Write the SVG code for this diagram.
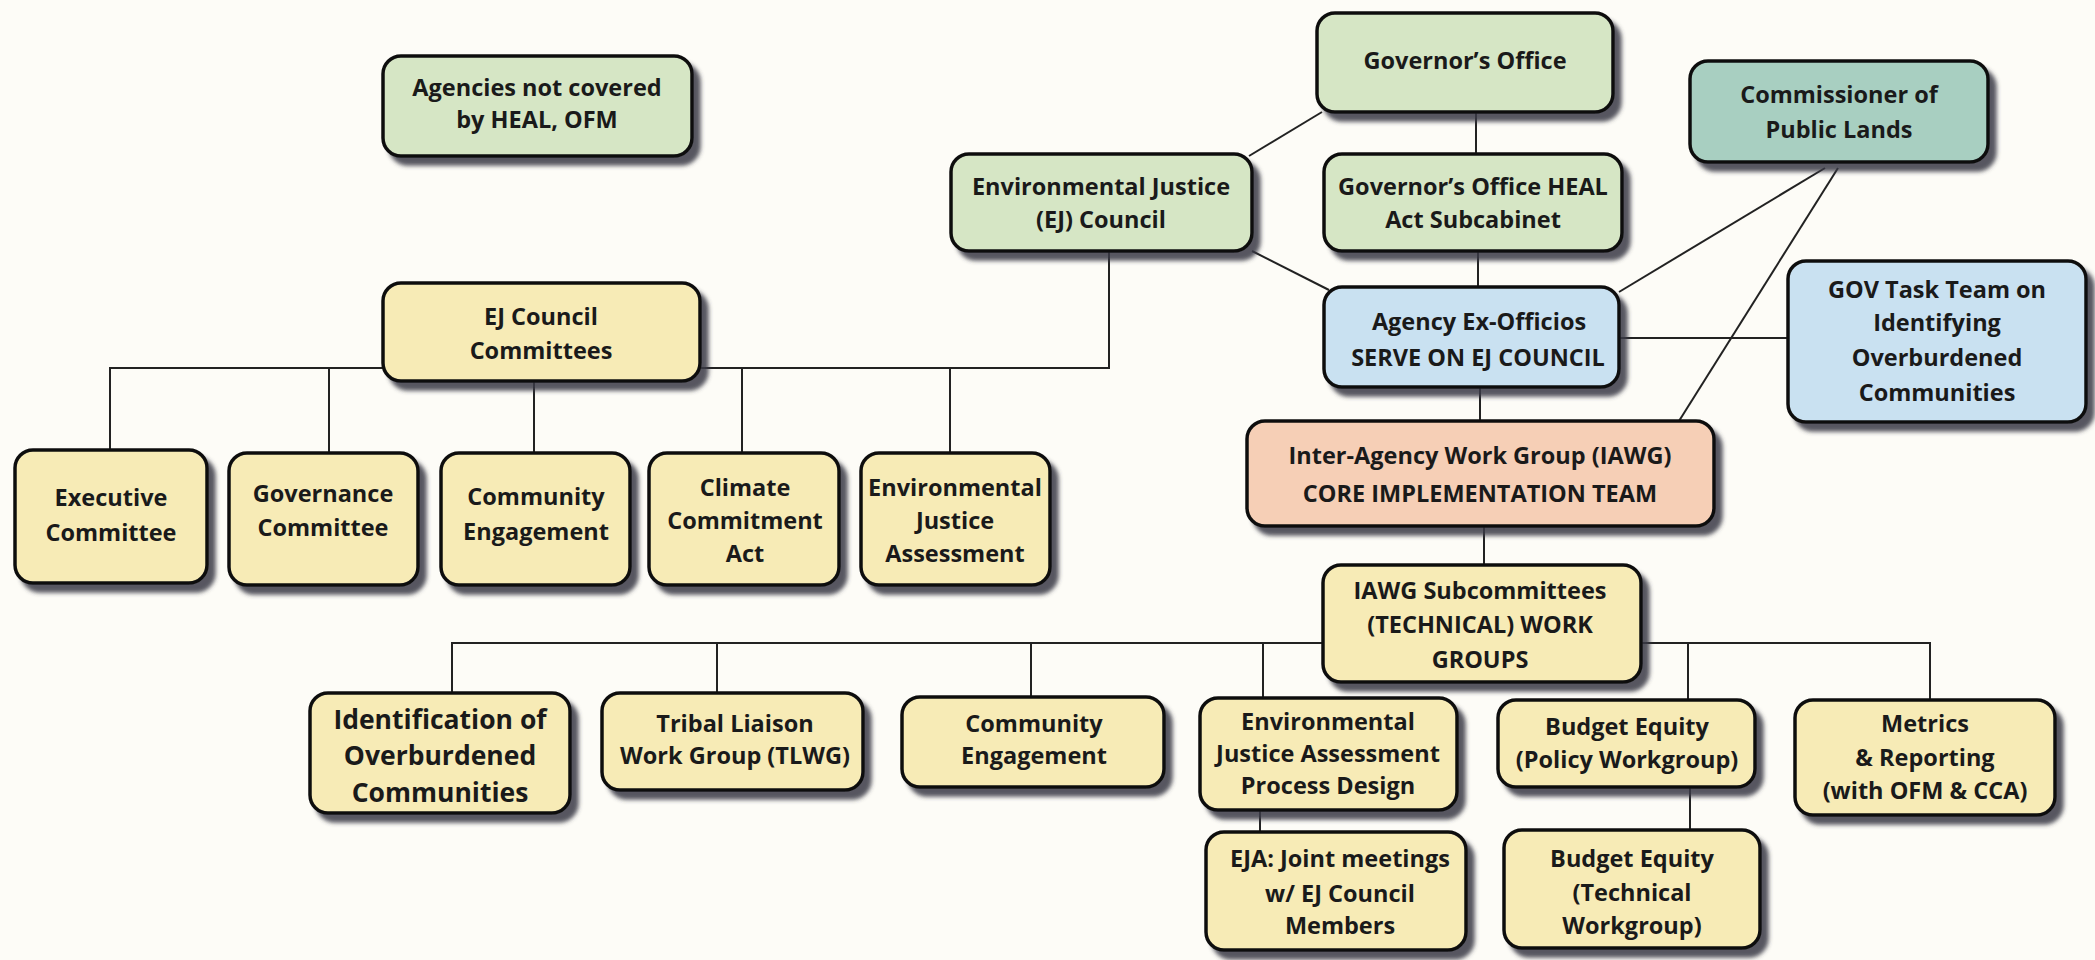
<svg xmlns="http://www.w3.org/2000/svg" width="2095" height="960" viewBox="0 0 2095 960">
<defs>
<filter id="sh" x="-10%" y="-10%" width="130%" height="140%">
<feDropShadow dx="7" dy="8" stdDeviation="2" flood-color="#3a3a44" flood-opacity="0.85"/>
</filter>
</defs>
<style>
.b{stroke:#111;stroke-width:3.5;filter:url(#sh)}
.g{fill:#d6e6c5}
.t{fill:#a8cfc1}
.bl{fill:#c9e1f1}
.p{fill:#f6cfb6}
.y{fill:#f7ebb6}
text{font-family:"Open Sans",Lato,"Liberation Sans",sans-serif;font-weight:bold;font-size:23.5px;fill:#1a1a1a;text-anchor:middle}
.big{font-size:26.5px}
.c line,.c polyline{stroke:#222;stroke-width:2;fill:none}
</style>
<rect width="2095" height="960" fill="#fdfcf7"/>
<g class="c" id="connectors">
<line x1="1322" y1="112" x2="1249" y2="156"/>
<line x1="1476" y1="112" x2="1476" y2="154"/>
<line x1="1478" y1="251" x2="1478" y2="287"/>
<line x1="1252" y1="251" x2="1329" y2="290"/>
<line x1="1825" y1="168" x2="1619" y2="292"/>
<line x1="1838" y1="168" x2="1679" y2="421"/>
<line x1="1619" y1="338" x2="1788" y2="338"/>
<line x1="1480" y1="387" x2="1480" y2="421"/>
<polyline points="1109,251 1109,368 110,368 110,451"/>
<line x1="329" y1="368" x2="329" y2="453"/>
<line x1="534" y1="381" x2="534" y2="453"/>
<line x1="742" y1="368" x2="742" y2="453"/>
<line x1="950" y1="368" x2="950" y2="453"/>
<line x1="1484" y1="526" x2="1484" y2="565"/>
<polyline points="452,695 452,643 1930,643 1930,700"/>
<line x1="717" y1="643" x2="717" y2="695"/>
<line x1="1031" y1="643" x2="1031" y2="697"/>
<line x1="1263" y1="643" x2="1263" y2="698"/>
<line x1="1688" y1="643" x2="1688" y2="700"/>
<line x1="1260" y1="810" x2="1260" y2="832"/>
<line x1="1690" y1="787" x2="1690" y2="830"/>
</g>
<g id="agencies"><rect class="b g" x="383" y="56" width="309" height="100" rx="18"/><text x="537" y="96">Agencies not covered</text><text x="537" y="128">by HEAL, OFM</text></g>
<g id="governor"><rect class="b g" x="1317" y="13" width="296" height="99" rx="18"/><text x="1465" y="69">Governor’s Office</text></g>
<g id="commissioner"><rect class="b t" x="1690" y="61" width="298" height="101" rx="18"/><text x="1839" y="103">Commissioner of</text><text x="1839" y="138">Public Lands</text></g>
<g id="ej-council"><rect class="b g" x="951" y="154" width="301" height="97" rx="18"/><text x="1101" y="195">Environmental Justice</text><text x="1101" y="228">(EJ) Council</text></g>
<g id="heal"><rect class="b g" x="1324" y="154" width="298" height="97" rx="18"/><text x="1473" y="195">Governor’s Office HEAL</text><text x="1473" y="228">Act Subcabinet</text></g>
<g id="ej-committees"><rect class="b y" x="383" y="283" width="317" height="98" rx="18"/><text x="541" y="325">EJ Council</text><text x="541" y="359">Committees</text></g>
<g id="ex-officios"><rect class="b bl" x="1324" y="287" width="295" height="100" rx="18"/><text x="1479" y="330">Agency Ex-Officios</text><text x="1478" y="366">SERVE ON EJ COUNCIL</text></g>
<g id="gov-task"><rect class="b bl" x="1788" y="261" width="298" height="161" rx="18"/><text x="1937" y="298">GOV Task Team on</text><text x="1937" y="331">Identifying</text><text x="1937" y="366">Overburdened</text><text x="1937" y="401">Communities</text></g>
<g id="iawg"><rect class="b p" x="1247" y="421" width="467" height="105" rx="18"/><text x="1480" y="464">Inter-Agency Work Group (IAWG)</text><text x="1480" y="502">CORE IMPLEMENTATION TEAM</text></g>
<g id="executive"><rect class="b y" x="15" y="450" width="192" height="133" rx="18"/><text x="111" y="506">Executive</text><text x="111" y="541">Committee</text></g>
<g id="governance"><rect class="b y" x="229" y="453" width="189" height="132" rx="18"/><text x="323" y="502">Governance</text><text x="323" y="536">Committee</text></g>
<g id="community-ej"><rect class="b y" x="441" y="453" width="189" height="132" rx="18"/><text x="536" y="505">Community</text><text x="536" y="540">Engagement</text></g>
<g id="climate"><rect class="b y" x="649" y="453" width="190" height="132" rx="18"/><text x="745" y="496">Climate</text><text x="745" y="529">Commitment</text><text x="745" y="562">Act</text></g>
<g id="eja-committee"><rect class="b y" x="861" y="453" width="189" height="132" rx="18"/><text x="955" y="496">Environmental</text><text x="955" y="529">Justice</text><text x="955" y="562">Assessment</text></g>
<g id="iawg-sub"><rect class="b y" x="1323" y="565" width="318" height="117" rx="18"/><text x="1480" y="599">IAWG Subcommittees</text><text x="1480" y="633">(TECHNICAL) WORK</text><text x="1480" y="668">GROUPS</text></g>
<g id="identification"><rect class="b y" x="310" y="693" width="260" height="120" rx="18"/><text class="big" x="440" y="729">Identification of</text><text class="big" x="440" y="765">Overburdened</text><text class="big" x="440" y="802">Communities</text></g>
<g id="tribal"><rect class="b y" x="602" y="693" width="261" height="97" rx="18"/><text x="735" y="732">Tribal Liaison</text><text x="735" y="764">Work Group (TLWG)</text></g>
<g id="community-iawg"><rect class="b y" x="902" y="697" width="262" height="90" rx="18"/><text x="1034" y="732">Community</text><text x="1034" y="764">Engagement</text></g>
<g id="eja-process"><rect class="b y" x="1200" y="698" width="257" height="112" rx="18"/><text x="1328" y="730">Environmental</text><text x="1328" y="762">Justice Assessment</text><text x="1328" y="794">Process Design</text></g>
<g id="budget-policy"><rect class="b y" x="1498" y="700" width="257" height="87" rx="18"/><text x="1627" y="735">Budget Equity</text><text x="1627" y="768">(Policy Workgroup)</text></g>
<g id="metrics"><rect class="b y" x="1795" y="700" width="260" height="115" rx="18"/><text x="1925" y="732">Metrics</text><text x="1925" y="766">&amp; Reporting</text><text x="1925" y="799">(with OFM &amp; CCA)</text></g>
<g id="eja-joint"><rect class="b y" x="1206" y="832" width="260" height="118" rx="18"/><text x="1340" y="867">EJA: Joint meetings</text><text x="1340" y="902">w/ EJ Council</text><text x="1340" y="934">Members</text></g>
<g id="budget-tech"><rect class="b y" x="1504" y="830" width="256" height="118" rx="18"/><text x="1632" y="867">Budget Equity</text><text x="1632" y="901">(Technical</text><text x="1632" y="934">Workgroup)</text></g>
</svg>
